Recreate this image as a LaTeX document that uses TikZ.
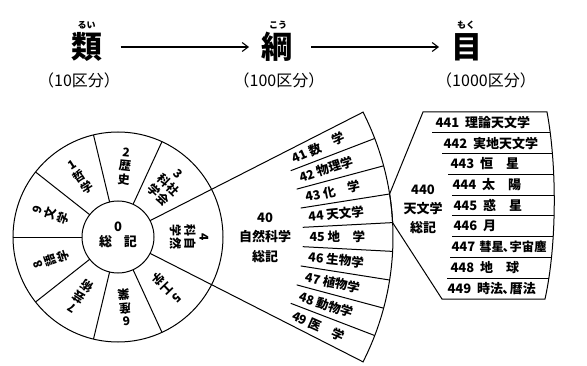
\documentclass[tikz,border=0pt]{standalone}
\usepackage{fontspec}
\setmainfont{Noto Sans CJK JP}
\usetikzlibrary{arrows.meta}
\newcommand{\tcomma}{\kern-1pt、\kern-5.5pt}
\begin{document}
\begin{tikzpicture}[x=1pt,y=1pt,line width=1pt,
  title/.style={font=\bfseries\fontsize{31}{31}\selectfont,inner sep=0pt},
  ruby/.style={font=\bfseries\fontsize{9}{9}\selectfont,inner sep=0pt},
  count/.style={font=\fontsize{16}{16}\selectfont,inner sep=0pt},
  arr/.style={-{Straight Barb[length=6pt,width=9pt]},line width=1.1pt,shorten <=18pt,shorten >=12pt},
  sect/.style={font=\bfseries\fontsize{12}{13.5}\selectfont,inner sep=0pt,align=center},
  stripe/.style={font=\bfseries\fontsize{12.5}{12.5}\selectfont,inner sep=0pt,anchor=west},
  rowtxt/.style={font=\bfseries\fontsize{13}{13}\selectfont,inner sep=0pt,anchor=west},
  big/.style={font=\bfseries\fontsize{13}{19.5}\selectfont,inner sep=0pt,align=center}]
\useasboundingbox (0,0) rectangle (587,365);

% header
\node[title] (rui) at (86.5,318) {類};
\node[ruby] (ruiR) at (86.5,340) {るい};
\node[count] (ruiC) at (79,285) {（10区分）};
\node[title] (kou) at (277,318) {綱};
\node[ruby] (kouR) at (278,340) {こう};
\node[count] (kouC) at (279,285) {（100区分）};
\node[title] (moku) at (467,318) {目};
\node[ruby] (mokuR) at (466,340) {もく};
\node[count] (mokuC) at (486,285) {（1000区分）};
\draw[arr] (rui) -- (kou);
\draw[arr] (kou) -- (moku);

% wheel and fan
\coordinate (C) at (118,128);
\begin{scope}[shift={(118,128)}]
  \draw (0,0) circle[radius=105];
  \draw (0,0) circle[radius=36];
  \foreach \a in {65.25,103.5,141.75,180,-141.75,-103.5,-65.25}
    \draw (\a:36) -- (\a:105);
  \draw (27:36) -- (27:275) arc[start angle=27,end angle=-27,radius=275] -- (-27:36);
  \foreach \a in {21,15,9,3,-3,-9,-15,-21}
    \draw (\a:185) -- (\a:275);
  % centre
  \node[sect,font=\bfseries\fontsize{13}{15}\selectfont] (zero) at (0,2) {0\\総\hspace{12pt}記};
  % sectors
  \foreach \a/\t [count=\i] in {122.6/1\\哲\\学, 84.4/2\\歴\\史, -46.1/5\\工\\学, -84.4/6\\産\\業, -122.6/7\\芸\\術, -160.9/8\\語\\学, 160.9/9\\文\\学}
    \node[sect,rotate={\a-90}] (s\i) at (\a:71) {\t};
  \node[sect,rotate=-43.9] (s3) at (46.1:71) {\begin{tabular}{@{}c@{\hspace{1pt}}c@{}}\multicolumn{2}{c}{3}\\科&社\\学&会\end{tabular}};
  \node[sect,rotate=-90] (s4) at (0:70) {\begin{tabular}{@{}c@{\hspace{1pt}}c@{}}\multicolumn{2}{c}{4}\\科&自\\学&然\end{tabular}};
  % stripes
  \foreach \a/\t [count=\i] in {24/41 数　学, 18/42 物理学, 12/43 化　学, 6/44 天文学, 0/45 地　学, -6/46 生物学, -12/47 植物学, -18/48 動物学, -24/49 医　学}
    \node[stripe,rotate=\a] (f\i) at (\a:191) {\t};
\end{scope}

\node[big] (n40) at (265,127.5) {40\\自然科学\\総記};

% 440 block
\draw (423,253) -- (547,253) .. controls (557,200) and (557,120) .. (545,66)
  -- (442,66) -- (392.6,142.4) arc[start angle=3,end angle=9,radius=275] -- cycle;
\begin{scope}
  \clip (400,253) -- (547,253) .. controls (557,200) and (557,120) .. (545,66) -- (400,66) -- cycle;
  \foreach \y/\x in {232.2/432, 211.4/442, 190.7/448, 169.9/452, 149.1/452, 128.3/452, 107.6/450, 86.8/447}
    \draw (\x,\y) -- (600,\y);
\end{scope}
\node[big,font=\bfseries\fontsize{13}{19}\selectfont] (n440) at (423,156) {440\\天文学\\総記};
\foreach \y/\x/\t [count=\i] in {242.6/435/441\hspace{6pt}理論天文学, 221.8/443/442\hspace{6pt}実地天文学, 201.0/450/443\hspace{6pt}恒　星, 180.3/452/444\hspace{6pt}太　陽, 159.5/453/445\hspace{6pt}惑　星, 138.7/453/446\hspace{6pt}月, 117.9/451/447\hspace{4pt}{\fontsize{12.3}{12.3}\selectfont 彗星\tcomma 宇宙塵}, 97.2/450/448\hspace{6pt}地　球, 76.4/447/449\hspace{6pt}時法\tcomma 暦法}
  \node[rowtxt] (r\i) at (\x,\y) {\t};
\end{tikzpicture}
\end{document}
